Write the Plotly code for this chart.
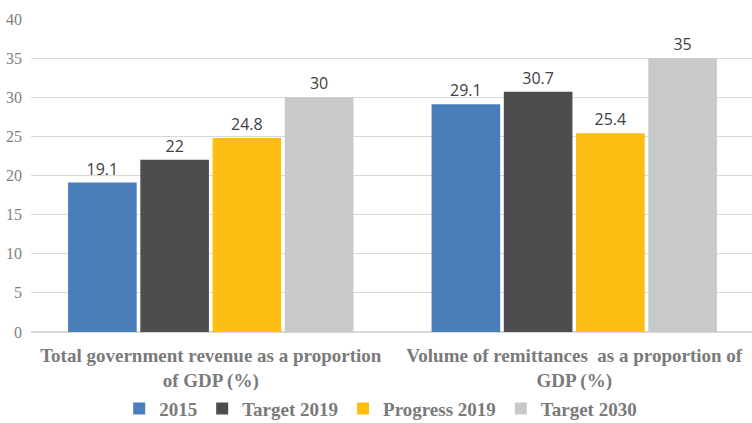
import plotly.graph_objects as go

categories = ["Total government revenue as a proportion<br>of GDP (%)",
              "Volume of remittances  as a proportion of<br>GDP (%)"]
series_names = ["2015", "Target 2019", "Progress 2019", "Target 2030"]
values_2015 = [19.1, 29.1]
values_target_2019 = [22, 30.7]
values_progress_2019 = [24.8, 25.4]
values_target_2030 = [30, 35]
colors = ["#4a7ebb", "#4d4d4f", "#fdbd12", "#c8c9cb"]

all_values = [values_2015, values_target_2019, values_progress_2019, values_target_2030]
SERIF = "Times New Roman, Liberation Serif, serif"
SANS = "Open Sans, sans-serif"

fig = go.Figure()
for name, vals, col in zip(series_names, all_values, colors):
    fig.add_trace(go.Bar(
        name=name, x=categories, y=vals, marker=dict(color=col, line=dict(width=0)),
        text=[str(v) for v in vals], textposition="outside", cliponaxis=False,
        textfont=dict(family=SANS, size=16, color="#404040"),
    ))

fig.update_layout(
    width=752, height=423,
    margin=dict(l=31, r=0, t=19, b=91, autoexpand=False),
    paper_bgcolor="white", plot_bgcolor="white",
    barmode="group", bargap=0.205, bargroupgap=0.05,
    font=dict(family=SERIF),
    showlegend=True,
    legend=dict(orientation="h", x=0.485, xanchor="center", y=-0.245, yanchor="middle",
                font=dict(family=SERIF, size=19, color="#7a7a7a", weight="bold"),
                itemwidth=30, tracegroupgap=0),
)
fig.update_xaxes(range=[-0.4945, 1.489], showline=True, linecolor="#d9d9d9", linewidth=1,
                 automargin=False, ticklabelstandoff=6,
                 ticks="", tickfont=dict(family=SERIF, size=19, color="#7a7a7a", weight="bold"))
fig.update_yaxes(range=[0, 40], dtick=5, showgrid=True, gridcolor="#d9d9d9", gridwidth=1,
                 automargin=False,
                 zeroline=True, zerolinecolor="#d9d9d9", ticks="", ticklabelstandoff=8,
                 tickfont=dict(family=SERIF, size=16, color="#7f7f7f"))

fig.write_html("out.html", config={"displayModeBar": False},
               post_script="document.body.style.margin='0';document.body.style.overflow='hidden';")
